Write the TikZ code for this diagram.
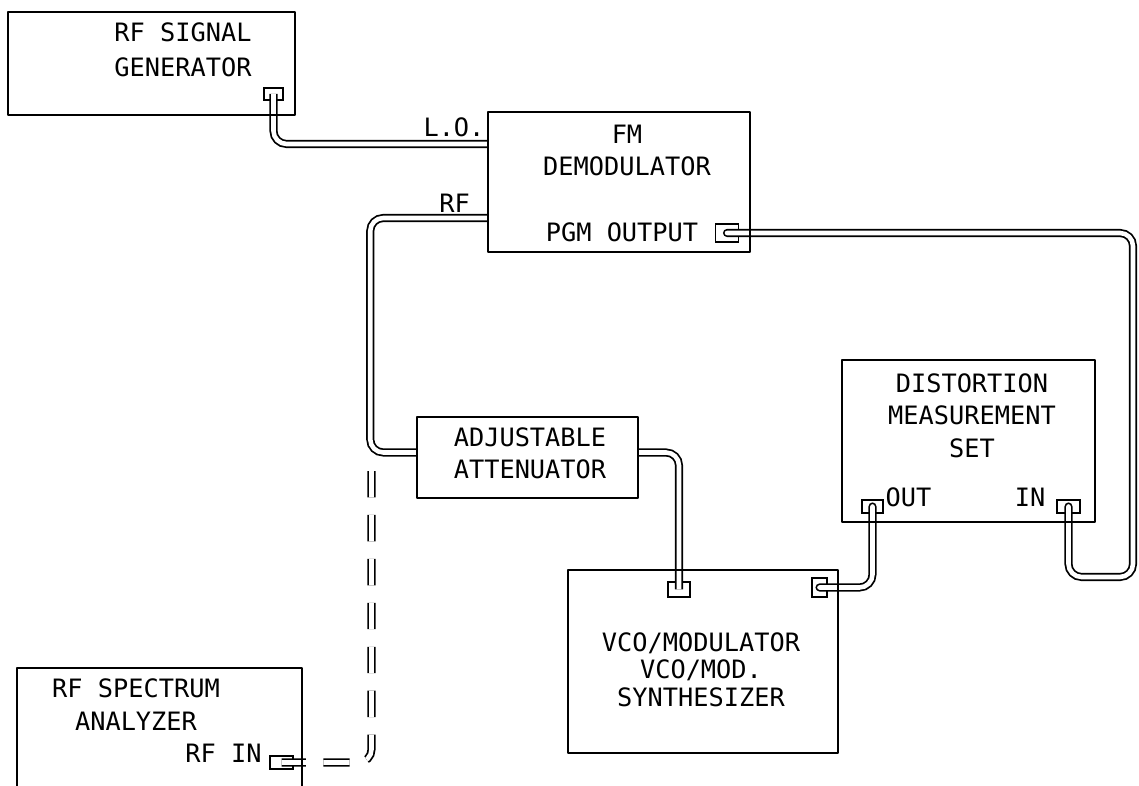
\documentclass[tikz,border=0pt]{standalone}
\usepackage{fontspec}
\newfontfamily\typefont{DejaVu Sans Mono}
\usetikzlibrary{backgrounds}

\begin{document}
\begin{tikzpicture}[line join=round,
    box/.style={draw,line width=0.7pt,inner sep=0pt},
    port/.style={draw,line width=0.5pt,inner sep=0pt},
    txt/.style={font=\typefont\fontsize{7.2}{9.2}\selectfont,inner sep=1pt},
    cable/.style={line width=0.5pt,double=white,double distance=1.3pt,rounded corners=0.13cm}]
  \useasboundingbox (0,0) rectangle (11.39,7.86);
  \clip (0,0) rectangle (11.39,7.86);
  \node[box,minimum width=2.87cm,minimum height=1.03cm] (siggen) at (1.515,7.225) {};
  \node[box,minimum width=2.62cm,minimum height=1.40cm] (fmdemod) at (6.19,6.04) {};
  \node[box,minimum width=2.21cm,minimum height=0.81cm] (atten) at (5.275,3.285) {};
  \node[box,minimum width=2.70cm,minimum height=1.83cm] (vcomod) at (7.03,1.245) {};
  \node[box,minimum width=2.53cm,minimum height=1.62cm] (distset) at (9.685,3.45) {};
  \node[box,minimum width=2.85cm,minimum height=1.40cm] (specan) at (1.595,0.48) {};
  \node[txt,align=left] (sigtxt) at (1.83,7.36) {RF SIGNAL\\[0.8pt]GENERATOR};
  \node[txt,align=center] (fmtxt) at (6.27,6.355) {FM\\DEMODULATOR};
  \node[txt] (pgmtxt) at (6.22,5.54) {PGM OUTPUT};
  \node[txt] (lotxt) at (4.54,6.59) {L.O.};
  \node[txt] (rftxt) at (4.545,5.83) {RF};
  \node[txt,align=center] (atttxt) at (5.30,3.33) {ADJUSTABLE\\ATTENUATOR};
  \node[txt,align=center] (vcotxt) at (7.01,1.165) {VCO/MODULATOR\\[-1.4pt]VCO/MOD.\\[-1.4pt]SYNTHESIZER};
  \node[txt,align=center] (disttxt) at (9.72,3.705) {DISTORTION\\MEASUREMENT\\SET};
  \node[txt] (outtxt) at (9.085,2.885) {OUT};
  \node[txt] (intxt) at (10.30,2.885) {IN};
  \node[txt,align=center] (spectxt) at (1.36,0.815) {RF SPECTRUM\\ANALYZER};
  \node[txt] (rfintxt) at (2.235,0.325) {RF IN};
  \coordinate (loopturn) at (11.33,2.09);
  \coordinate (tap) at (3.715,3.19);
  \begin{scope}[on background layer]
    \node[port,minimum width=0.19cm,minimum height=0.12cm] (sigport) at (2.735,6.92) {};
    \node[port,minimum width=0.23cm,minimum height=0.18cm] (pgmport) at (7.27,5.53) {};
    \node[port,minimum width=0.22cm,minimum height=0.15cm] (vcoin) at (6.79,1.965) {};
    \node[port,minimum width=0.15cm,minimum height=0.19cm] (vcoout) at (8.195,1.985) {};
    \node[port,minimum width=0.21cm,minimum height=0.13cm] (outport) at (8.725,2.795) {};
    \node[port,minimum width=0.23cm,minimum height=0.13cm] (inport) at (10.685,2.795) {};
    \node[port,minimum width=0.23cm,minimum height=0.13cm] (specport) at (2.815,0.235) {};
    \draw[cable] (sigport.center) |- ([yshift=0.38cm]fmdemod.west);
    \draw[cable] ([yshift=-0.36cm]fmdemod.west) -- ++(-1.165,0) |- ([yshift=0.05cm]atten.west);
    \draw[cable] ([yshift=0.05cm]atten.east) -| (vcoin.center);
    \draw[cable,line cap=round] (vcoout.center) -| (outport.center);
    \draw[cable,line cap=round] (pgmport.center) -| (loopturn) -| (inport.center);
    \draw[cable,dash pattern=on 7.5pt off 5pt,dash phase=0.6pt] (specport.center) -| (tap);
  \end{scope}
\end{tikzpicture}
\end{document}
